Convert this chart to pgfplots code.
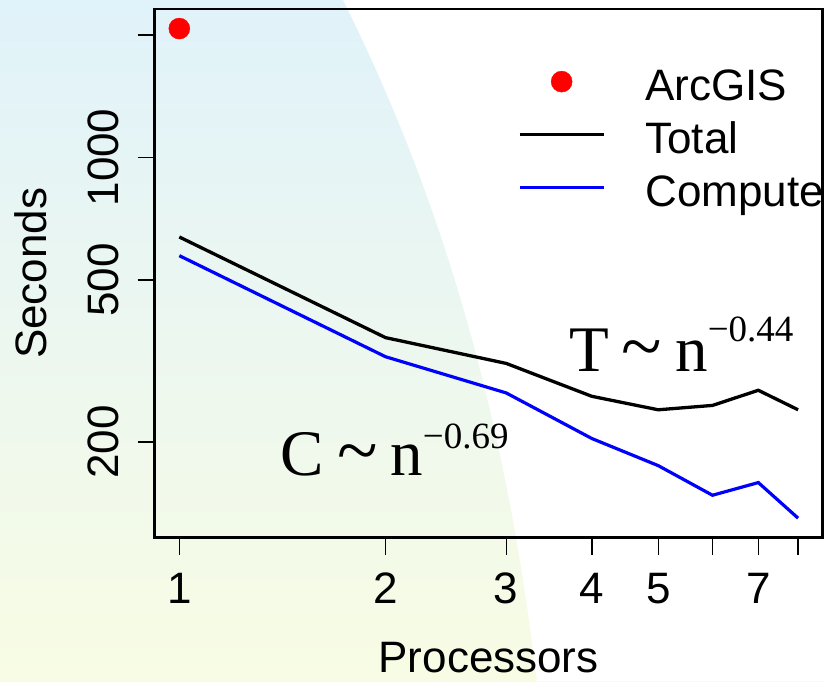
\documentclass[border=0pt]{standalone}
\usepackage{pgfplots}
\pgfplotsset{compat=1.18}
\usepackage{fontspec}
\setmainfont{Liberation Sans}
\newfontfamily\serifT{Liberation Serif}
\definecolor{bgtop}{RGB}{224,242,250}
\definecolor{bgmid}{RGB}{238,247,240}
\definecolor{bgbot}{RGB}{248,252,228}
\newcommand{\lab}{\fontsize{44}{50}\selectfont}
\begin{document}
\begin{tikzpicture}
\useasboundingbox (0pt,0pt) rectangle (824pt,681pt);
\clip (0pt,0pt) rectangle (824pt,681pt);
\shade[top color=bgtop, middle color=bgmid, bottom color=bgbot] (0pt,0pt) rectangle (824pt,681pt);
\fill[white] (343pt,681pt) .. controls (456.5pt,454pt) and (509.8pt,227pt) .. (537pt,0pt) -- (824pt,0pt) -- (824pt,681pt) -- cycle;
\begin{axis}[
  at={(154.5pt,143.3pt)}, anchor=south west,
  scale only axis, width=668.2pt, height=528.7pt,
  xmode=log, ymode=log,
  xmin=0.92, xmax=8.69, ymin=116.4, ymax=2317,
  xtick={1,2,3,4,5,6,7,8}, xticklabels={1,2,3,4,5,{},7,{}},
  ytick={200,500,1000,2000}, yticklabels={200,500,1000,{}},
  minor xtick={}, minor ytick={},
  tick align=outside, xtick pos=bottom, ytick pos=left,
  major tick length=17pt,
  every tick/.style={black, line width=1.4pt},
  axis line style={line width=2.5pt},
  /pgf/number format/assume math mode=true,
  tick label style={font=\lab},
  xticklabel style={anchor=base, inner sep=0pt, yshift=-49pt},
  yticklabel style={xshift=-19.5pt, rotate=90, anchor=base, inner sep=0pt},
  label style={font=\lab},
  xlabel={Processors},
  xlabel style={at={(axis description cs:0.5,-0.2545)}, anchor=base, inner sep=0pt, text depth=0pt},
  ylabel={Seconds},
  ylabel style={at={(axis description cs:-0.1609,0.5)}, anchor=base, inner sep=0pt},
  legend style={draw=none, fill=none, at={(0.544,0.909)}, anchor=north west,
    inner sep=0pt, outer sep=0pt, row sep=4pt, column sep=40pt, font=\lab,
    cells={anchor=west}, nodes={inner sep=0pt, text height=43pt, text depth=6pt}},
  legend cell align=left,
]
\addplot[only marks, mark=*, color=red, mark size=10.5pt,
  legend image code/.code={\fill[red] (42pt,0pt) circle (10.5pt);}]
  coordinates {(1,2074)};
\addlegendentry{ArcGIS}
\addplot[black, line width=3.3pt,
  legend image code/.code={\draw[black, line width=3.3pt] (0pt,0pt) -- (84pt,0pt);}]
  coordinates {(1,638) (2,361) (3,312) (4,259) (5,240) (6,246) (7,268) (8,240)};
\addlegendentry{Total}
\addplot[blue, line width=3.2pt,
  legend image code/.code={\draw[blue, line width=3.2pt] (0pt,0pt) -- (84pt,0pt);}]
  coordinates {(1,574) (2,324) (3,264) (4,204) (5,175) (6,148) (7,159) (8,130)};
\addlegendentry{Compute}
\end{axis}
\node[anchor=base west, inner sep=0pt] at (569pt,309.3pt)
  {\serifT\fontsize{65}{70}\selectfont T\hspace{0.2em}\scalebox{1.15}{\textasciitilde}\hspace{0.2em}n\raisebox{30pt}{\fontsize{37}{40}\selectfont −0.44}};
\node[anchor=base west, inner sep=0pt] at (280.5pt,206pt)
  {\serifT\fontsize{65}{70}\selectfont C\hspace{0.2em}\scalebox{1.15}{\textasciitilde}\hspace{0.2em}n\raisebox{27pt}{\fontsize{37}{40}\selectfont −0.69}};
\end{tikzpicture}
\end{document}
